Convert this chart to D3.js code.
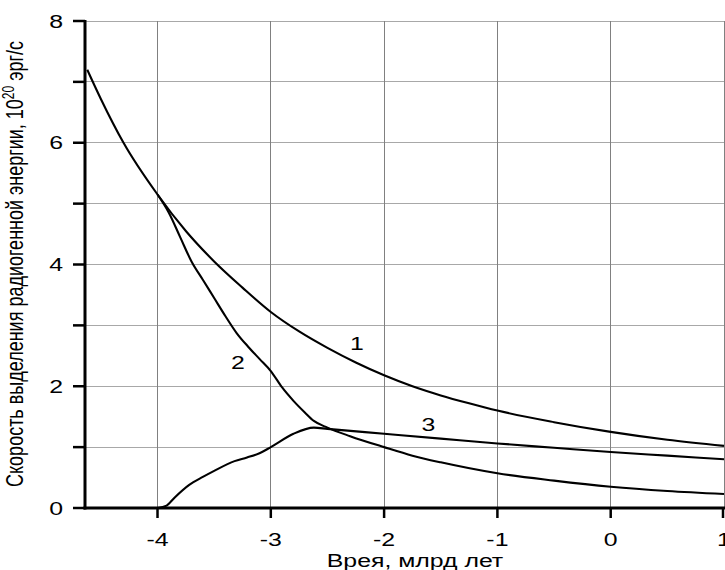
<!DOCTYPE html>
<html><head><meta charset="utf-8">
<script src="https://cdn.jsdelivr.net/npm/d3@7"></script>
<style>body{margin:0;background:#fff}svg{display:block}</style>
</head><body>
<script>
// Data
const curve1X = [-4.62,-4.5,-4.3,-4.0,-3.75,-3.5,-3.25,-3.0,-2.75,-2.5,-2.25,-2.0,-1.75,-1.5,-1.25,-1.0,-0.5,0,0.5,1.0];
const curve1Y = [7.2,6.72,6.0,5.15,4.55,4.05,3.62,3.22,2.9,2.63,2.39,2.18,2.0,1.85,1.72,1.6,1.41,1.25,1.12,1.02];
const curve2X = [-4.0,-3.9,-3.8,-3.7,-3.6,-3.5,-3.4,-3.3,-3.2,-3.1,-3.0,-2.9,-2.8,-2.7,-2.62,-2.5,-2.3,-2.0,-1.75,-1.5,-1.0,-0.5,0,0.5,1.0];
const curve2Y = [5.15,4.85,4.45,4.05,3.75,3.45,3.15,2.87,2.65,2.45,2.25,1.98,1.76,1.57,1.43,1.32,1.18,1.0,0.86,0.75,0.57,0.45,0.35,0.28,0.23];
const curve3X = [-4.0,-3.92,-3.85,-3.72,-3.6,-3.5,-3.32,-3.21,-3.1,-3.0,-2.8,-2.62,-2.5,-2.0,-1.5,-1.0,-0.5,0,0.5,1.0];
const curve3Y = [0,0.04,0.17,0.38,0.51,0.61,0.77,0.83,0.9,1.0,1.22,1.32,1.30,1.22,1.14,1.06,0.99,0.92,0.86,0.80];
const xTicks = [-4,-3,-2,-1,0,1];
const yTicks = [0,1,2,3,4,5,6,7,8];
const yTickLabels = [0,2,4,6,8];
const curveLabels = [{t:"1",x:-2.24,y:2.6},{t:"2",x:-3.29,y:2.29},{t:"3",x:-1.61,y:1.27}];
const xTitle = "Врея, млрд лет";

const W=725,H=570;
const svg=d3.select("body").append("svg").attr("width",W).attr("height",H);
const x=d3.scaleLinear().domain([-4.64,1]).range([85,724]);
const y=d3.scaleLinear().domain([0,8]).range([508,21]);
const SX=1.38;
const font="'Liberation Sans', Arial, sans-serif";

function txt(t,px,py,anchor,size){
  return svg.append("text").attr("transform",`translate(${px},${py}) scale(${SX},1)`)
    .attr("text-anchor",anchor).attr("font-family",font).attr("font-size",size).attr("fill","#000").text(t);
}

// grid
svg.append("g").selectAll("line").data(yTicks.filter(d=>d>0)).join("line")
  .attr("x1",x(-4.64)).attr("x2",724).attr("y1",d=>y(d)).attr("y2",d=>y(d))
  .attr("stroke","#a8a8a8").attr("stroke-width",1).attr("shape-rendering","crispEdges");
svg.append("g").selectAll("line").data(xTicks).join("line")
  .attr("x1",d=>Math.min(x(d),724)).attr("x2",d=>Math.min(x(d),724)).attr("y1",y(8)).attr("y2",y(0))
  .attr("stroke","#808080").attr("stroke-width",1).attr("shape-rendering","crispEdges");

// curves
const line=d3.line().x(d=>x(d[0])).y(d=>y(d[1])).curve(d3.curveMonotoneX);
[[curve1X,curve1Y],[curve2X,curve2Y],[curve3X,curve3Y]].forEach(([xs,ys])=>{
  svg.append("path").datum(xs.map((v,i)=>[v,ys[i]])).attr("d",line)
    .attr("fill","none").attr("stroke","#000").attr("stroke-width",2.1).attr("stroke-linejoin","round");
});

// axes
svg.append("line").attr("x1",x(-4.64)).attr("x2",x(-4.64)).attr("y1",y(8)-1).attr("y2",y(0)+1.5)
  .attr("stroke","#000").attr("stroke-width",3);
svg.append("line").attr("x1",x(-4.64)-1.5).attr("x2",W).attr("y1",y(0)).attr("y2",y(0))
  .attr("stroke","#000").attr("stroke-width",3);
svg.append("g").selectAll("line").data(yTicks).join("line")
  .attr("x1",x(-4.64)-12).attr("x2",x(-4.64)).attr("y1",d=>y(d)).attr("y2",d=>y(d))
  .attr("stroke","#000").attr("stroke-width",2.5);
svg.append("g").selectAll("line").data(xTicks).join("line")
  .attr("x1",d=>Math.min(x(d),723)).attr("x2",d=>Math.min(x(d),723)).attr("y1",y(0)).attr("y2",y(0)+10)
  .attr("stroke","#000").attr("stroke-width",2.5);

// tick labels
yTickLabels.forEach(v=>txt(String(v),63,y(v)+6.5,"end",18));
xTicks.forEach(v=>txt(v<0?"-"+Math.abs(v):String(v),x(v),546,"middle",18));

// titles
txt(xTitle,415,567,"middle",18);
const yt=svg.append("text").attr("transform",`translate(23,264) scale(1.35,1) rotate(-90)`)
  .attr("text-anchor","middle").attr("font-family",font).attr("font-size",18).attr("fill","#000");
yt.append("tspan").text("Скорость выделения радиогенной энергии, 10");
yt.append("tspan").attr("font-size",12).attr("dy",-7).text("20");
yt.append("tspan").attr("dy",7).text(" эрг/с");

// curve labels
curveLabels.forEach(l=>txt(l.t,x(l.x),y(l.y),"middle",18));
</script>
</body></html>
